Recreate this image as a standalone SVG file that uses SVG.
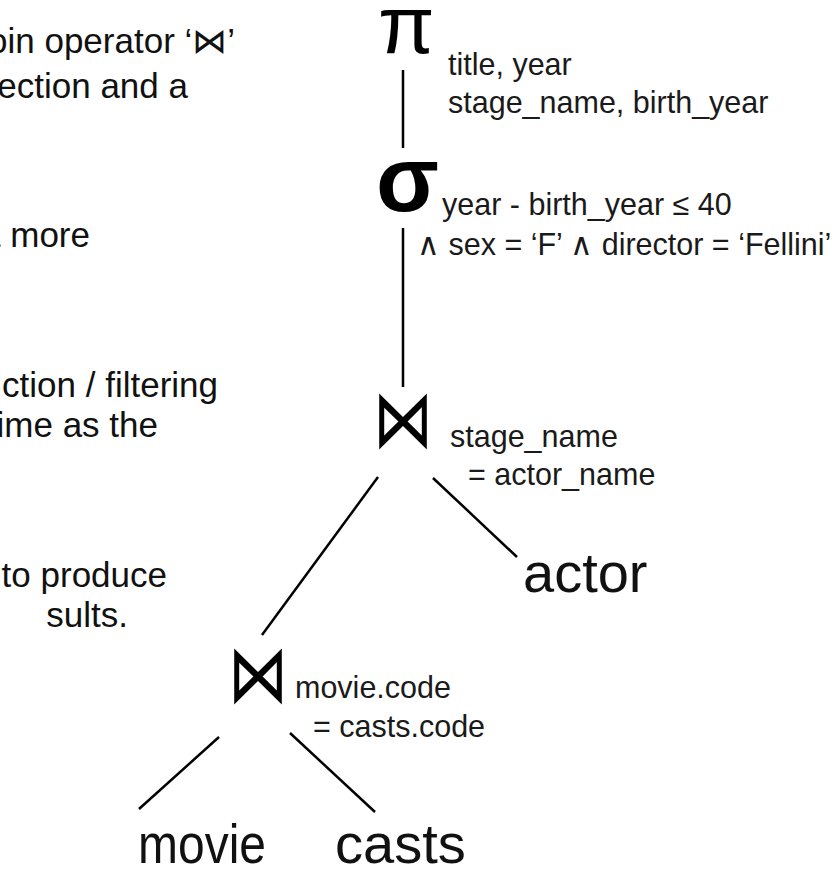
<svg xmlns="http://www.w3.org/2000/svg" width="840" height="869" viewBox="0 0 840 869">
<style>
.note{font-family:"Liberation Sans",Arial,sans-serif;font-size:35px;fill:#111}
.lbl{font-family:"Liberation Sans",Arial,sans-serif;font-size:30.5px;fill:#1a1a1a}
.rel{font-family:"Liberation Sans",Arial,sans-serif;font-size:56px;fill:#111}
.op{font-family:"Liberation Sans",Arial,sans-serif;fill:#000}
.bow{font-family:"DejaVu Sans",sans-serif;font-size:64px;fill:#000;text-anchor:middle}
.edge{stroke:#000;stroke-width:2.5;fill:none}
</style>
<rect width="840" height="869" fill="#fff"/>
<g id="notes">
<text class="note" x="-12" y="53">oin operator ‘⋈’</text>
<text class="note" x="188" y="98" text-anchor="end">ection and a</text>
<text class="note" x="90" y="247" text-anchor="end">a more</text>
<text class="note" x="218" y="397" text-anchor="end">ction / filtering</text>
<text class="note" x="158" y="437" text-anchor="end">ime as the</text>
<text class="note" x="167" y="587" text-anchor="end">to produce</text>
<text class="note" x="128" y="627" text-anchor="end">sults.</text>
</g>
<g id="connectors">
<line class="edge" x1="403" y1="70" x2="403" y2="148"/>
<line class="edge" x1="403" y1="228" x2="403" y2="387"/>
<line class="edge" x1="378" y1="477" x2="262" y2="635"/>
<line class="edge" x1="433" y1="478" x2="517" y2="557"/>
<line class="edge" x1="219" y1="737" x2="139" y2="809"/>
<line class="edge" x1="290" y1="733" x2="375" y2="812"/>
</g>
<g id="projection">
<text class="op" x="378" y="53" font-size="82">π</text>
<text class="lbl" x="448" y="75">title, year</text>
<text class="lbl" x="448" y="113">stage_name, birth_year</text>
</g>
<g id="selection">
<text class="op" x="376" y="211" font-size="92" font-weight="bold">σ</text>
<text class="lbl" x="442" y="215">year - birth_year ≤ 40</text>
<text class="lbl" x="417" y="255">∧ sex = ‘F’ ∧ director = ‘Fellini’</text>
</g>
<g id="join1">
<text class="bow" transform="translate(403,447) scale(0.94,1.27)">⋈</text>
<text class="lbl" x="450" y="447">stage_name</text>
<text class="lbl" x="468" y="485">= actor_name</text>
</g>
<g id="join2">
<text class="bow" transform="translate(258,702) scale(0.94,1.27)">⋈</text>
<text class="lbl" x="295" y="698">movie.code</text>
<text class="lbl" x="313" y="737">= casts.code</text>
</g>
<g id="actor"><text class="rel" x="523" y="592">actor</text></g>
<g id="movie"><text class="rel" x="138" y="863" textLength="128" lengthAdjust="spacingAndGlyphs">movie</text></g>
<g id="casts"><text class="rel" x="335" y="863">casts</text></g>
</svg>
